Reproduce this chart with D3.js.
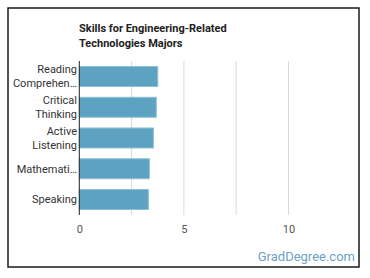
<!DOCTYPE html>
<html><head><meta charset="utf-8">
<script src="https://cdn.jsdelivr.net/npm/d3@7"></script>
<style>body{margin:0;background:#fff;}svg{display:block;font-family:Roboto,"Open Sans",sans-serif;}</style>
</head><body>
<svg id="c" width="370" height="278"></svg>
<script>
const categories = [["Reading","Comprehen…"],["Critical","Thinking"],["Active","Listening"],["Mathemati…"],["Speaking"]];
const values = [3.75, 3.68, 3.54, 3.35, 3.30];
const tickValues = [0, 2.5, 5, 7.5, 10];
const tickLabels = ["0", "", "5", "", "10"];
const titleLines = ["Skills for Engineering-Related", "Technologies Majors"];

const svg = d3.select("#c");
svg.append("rect").attr("x",8).attr("y",8).attr("width",351).attr("height",259)
  .attr("fill","#fff").attr("stroke","#1a1a1a").attr("stroke-width",1.5);

const x = d3.scaleLinear().domain([0,12.5]).range([79.3, 340.8]);
const y = d3.scaleBand().domain(d3.range(categories.length)).range([61,215]).paddingInner(0.35).paddingOuter(0.18);

// grid
svg.append("g").selectAll("line").data(tickValues.slice(1)).join("line")
  .attr("x1",d=>x(d)).attr("x2",d=>x(d)).attr("y1",61).attr("y2",215)
  .attr("stroke","#d9d9d9").attr("stroke-width",1);

// bars
svg.append("g").selectAll("rect").data(values).join("rect")
  .attr("x",x(0)).attr("y",(d,i)=>y(i)).attr("width",d=>x(d)-x(0)).attr("height",y.bandwidth())
  .attr("fill","#5da3c1").attr("stroke","#8cc0d6").attr("stroke-width",1);

// axis line
svg.append("line").attr("x1",x(0)).attr("x2",x(0)).attr("y1",61).attr("y2",215)
  .attr("stroke","#222").attr("stroke-width",1);

// x ticks
const xAxis = d3.axisBottom(x).tickValues(tickValues).tickFormat((d,i)=>tickLabels[i]).tickSize(0);
const gx = svg.append("g").attr("transform","translate(0,222)").call(xAxis);
gx.select(".domain").remove();
gx.selectAll("text").attr("fill","#555").attr("font-size","11px").attr("font-family","Roboto,sans-serif");

// y labels
const gl = svg.append("g");
categories.forEach((lines,i)=>{
  const cy = y(i)+y.bandwidth()/2;
  const lh = 14;
  const t = gl.append("text").attr("x",77).attr("text-anchor","end").attr("fill","#333").attr("font-size","11px");
  lines.forEach((l,j)=>{
    t.append("tspan").attr("x",77).attr("y", cy + (j-(lines.length-1)/2)*lh).attr("dy","0.35em").text(l);
  });
});

// title
const tt = svg.append("text").attr("x",79).attr("fill","#222").attr("font-size","11px").attr("font-weight","bold");
titleLines.forEach((l,j)=>tt.append("tspan").attr("x",79).attr("y",28+j*15).attr("dy","0.35em").text(l));

// watermark
svg.append("text").attr("x",355).attr("y",256).attr("dy","0.35em").attr("text-anchor","end")
  .attr("fill","#6aa3c3").attr("font-size","13px").text("GradDegree.com");
</script>
</body></html>
